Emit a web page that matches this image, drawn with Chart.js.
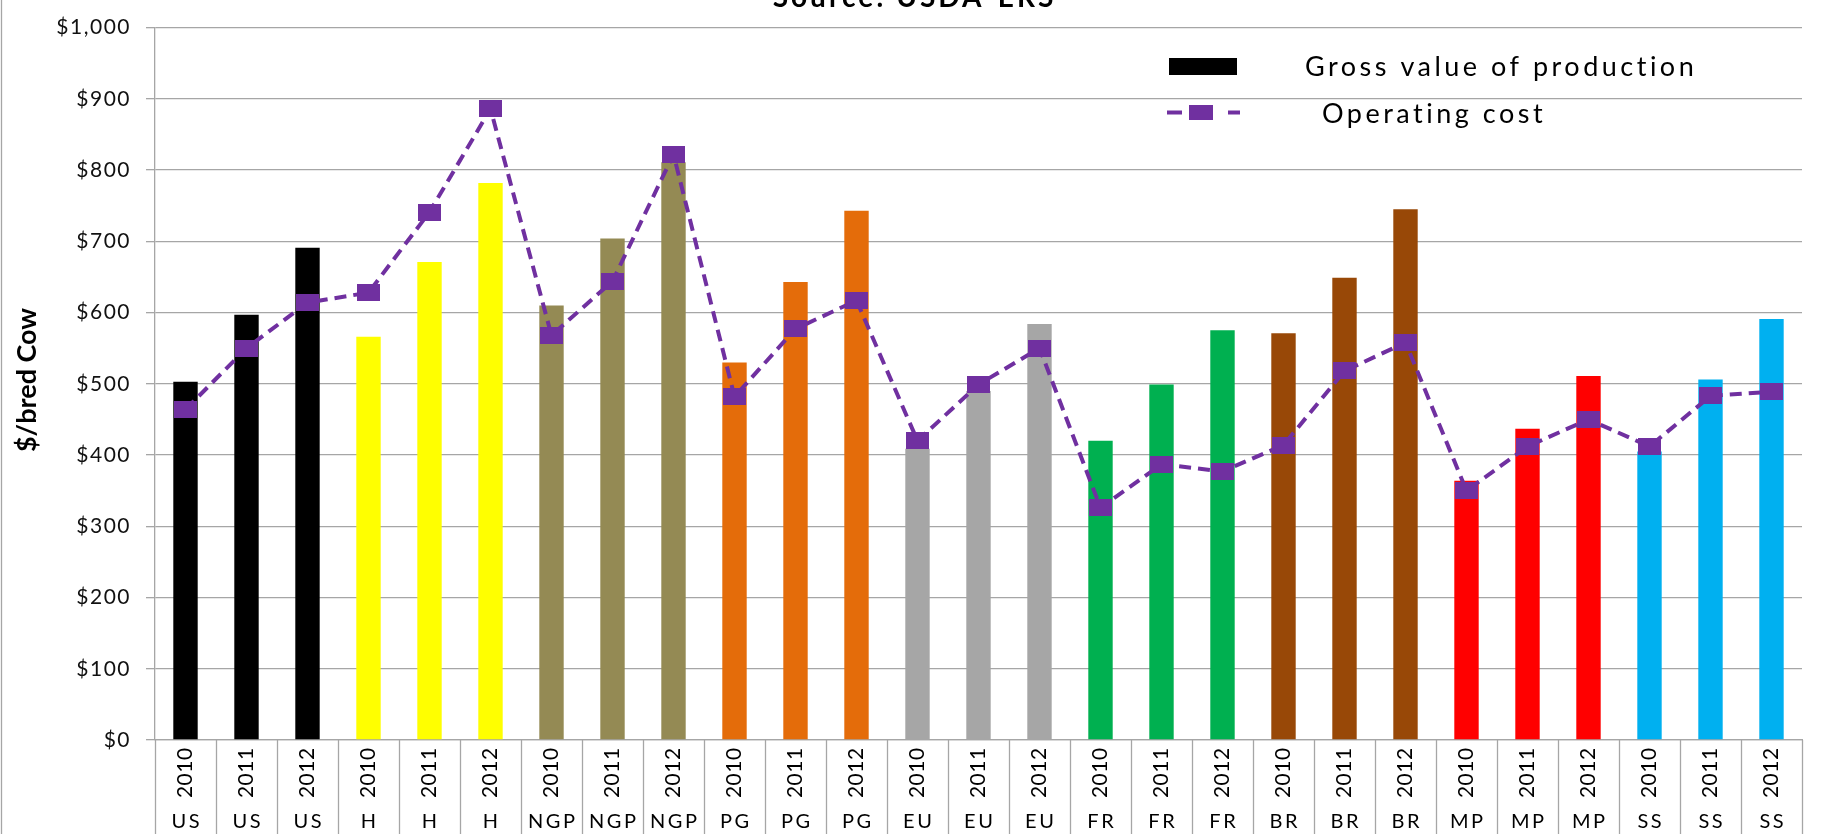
<!DOCTYPE html>
<html>
<head>
<meta charset="utf-8">
<script src="https://cdn.jsdelivr.net/npm/chart.js@4.4.1/dist/chart.umd.min.js"></script>
<style>
  html, body { margin: 0; padding: 0; background: #fff; }
  #wrap { width: 1831px; height: 834px; }
</style>
</head>
<body>
<div id="wrap"><canvas id="cowChart" width="1831" height="834"></canvas></div>
<script>
const years = ['2010', '2011', '2012', '2010', '2011', '2012', '2010', '2011', '2012',
               '2010', '2011', '2012', '2010', '2011', '2012', '2010', '2011', '2012',
               '2010', '2011', '2012', '2010', '2011', '2012', '2010', '2011', '2012'];
const regions = ['US', 'US', 'US', 'H', 'H', 'H', 'NGP', 'NGP', 'NGP',
                 'PG', 'PG', 'PG', 'EU', 'EU', 'EU', 'FR', 'FR', 'FR',
                 'BR', 'BR', 'BR', 'MP', 'MP', 'MP', 'SS', 'SS', 'SS'];
const grossValue = [503, 597, 691, 566, 671, 782, 610, 704, 811,
                    530, 643, 743, 409, 490, 584, 420, 499, 575,
                    571, 649, 745, 364, 437, 511, 405, 506, 591];
const operatingCost = [464, 550, 614, 628, 741, 886, 568, 644, 822,
                       482, 577, 617, 420, 499, 550, 326, 387, 377,
                       414, 518, 558, 350, 412, 450, 412, 483, 489];
const regionColors = {
    US: '#000000', H: '#FFFF00', NGP: '#948A54', PG: '#E46C0A', EU: '#A6A6A6',
    FR: '#00B050', BR: '#984807', MP: '#FF0000', SS: '#00B0F0'
};
const yTicks = [0, 100, 200, 300, 400, 500, 600, 700, 800, 900, 1000];

const purple = '#7030A0';
const gridGray = '#A6A6A6';

// square marker used for the operating cost points
const marker = document.createElement('canvas');
marker.width = 23;
marker.height = 17;
const mctx = marker.getContext('2d');
mctx.fillStyle = purple;
mctx.fillRect(0, 0, 23, 17);

function drawText(ctx, text, x, y, font, spacing, align, baseline, rot) {
    ctx.save();
    ctx.font = font;
    ctx.letterSpacing = spacing + 'px';
    ctx.fillStyle = '#000';
    ctx.textAlign = align;
    ctx.textBaseline = baseline;
    ctx.translate(x, y);
    if (rot) ctx.rotate(rot);
    ctx.fillText(text, align === 'center' ? spacing / 2 : 0, 0);
    ctx.restore();
}

const extras = {
    id: 'extras',
    beforeUpdate(chart) { chart.ctx.letterSpacing = '1.5px'; },
    beforeDraw(chart) { chart.ctx.letterSpacing = '1.5px'; },
    afterDraw(chart) {
        const ctx = chart.ctx;
        const x = chart.scales.x;
        const n = years.length;
        const step = (x.right - x.left) / n;
        const axisY = chart.chartArea.bottom;

        // category separators below the axis
        ctx.save();
        ctx.strokeStyle = gridGray;
        ctx.lineWidth = 1.3;
        for (let i = 0; i <= n; i++) {
            const px = Math.round(x.left + i * step) + 0.5;
            ctx.beginPath();
            ctx.moveTo(px, axisY);
            ctx.lineTo(px, chart.height);
            ctx.stroke();
        }
        // left frame
        ctx.beginPath();
        ctx.moveTo(1.5, 0);
        ctx.lineTo(1.5, chart.height);
        ctx.stroke();
        ctx.restore();

        // year and region labels
        for (let i = 0; i < n; i++) {
            const cx = x.getPixelForTick(i);
            drawText(ctx, years[i], cx, 773, '21px Lato', 0.5, 'center', 'middle', -Math.PI / 2);
            drawText(ctx, regions[i], cx, 828, '20px Lato', 2.5, 'center', 'alphabetic');
        }

        // title (cut off at the top in the original)
        drawText(ctx, 'Source: USDA-ERS', 913, 7, 'bold 28px Lato', 3, 'center', 'alphabetic');

        // y axis title
        drawText(ctx, '$/bred Cow', 27, 380, 'bold 27px Lato', 0, 'center', 'middle', -Math.PI / 2);

        // legend
        const ds = chart.data.datasets;
        ctx.save();
        ctx.fillStyle = '#000';
        ctx.fillRect(1169, 58, 68, 17);
        ctx.strokeStyle = purple;
        ctx.lineWidth = 4;
        ctx.beginPath();
        ctx.moveTo(1167, 112.5); ctx.lineTo(1182, 112.5);
        ctx.moveTo(1228, 112.5); ctx.lineTo(1240, 112.5);
        ctx.stroke();
        ctx.fillStyle = purple;
        ctx.fillRect(1189, 105, 24, 15);
        ctx.restore();
        drawText(ctx, ds[1].label, 1305, 76, '27px Lato', 3.5, 'left', 'alphabetic');
        drawText(ctx, ds[0].label, 1322, 123, '27px Lato', 3.5, 'left', 'alphabetic');
    }
};

const ctx = document.getElementById('cowChart').getContext('2d');
const chart = new Chart(ctx, {
    data: {
        labels: years,
        datasets: [{
            type: 'line',
            label: 'Operating cost',
            data: operatingCost,
            borderColor: purple,
            borderWidth: 4,
            borderDash: [12, 7],
            fill: false,
            tension: 0,
            pointStyle: marker,
            pointRadius: 10,
            order: 0
        }, {
            type: 'bar',
            label: 'Gross value of production',
            data: grossValue,
            backgroundColor: regions.map(r => regionColors[r]),
            categoryPercentage: 1,
            barPercentage: 0.4,
            order: 1
        }]
    },
    options: {
        responsive: false,
        animation: false,
        layout: { padding: { top: 18.7, right: 29, left: 0, bottom: 0 } },
        plugins: {
            legend: { display: false },
            title: { display: false },
            tooltip: { enabled: false }
        },
        scales: {
            x: {
                offset: true,
                grid: { display: false },
                border: { display: true, color: gridGray, width: 1.3 },
                ticks: { display: false },
                afterFit: s => { s.height = 94; }
            },
            y: {
                min: 0,
                max: 1000,
                afterBuildTicks: s => { s.ticks = yTicks.map(v => ({ value: v })); },
                grid: { color: gridGray, lineWidth: 1.3, tickLength: 9 },
                border: { display: true, color: gridGray, width: 1.3 },
                ticks: {
                    font: { family: 'Lato', size: 21 },
                    color: '#111',
                    padding: 15,
                    callback: v => '$' + v.toLocaleString('en-US')
                },
                afterFit: s => { s.width = 155; }
            }
        }
    },
    plugins: [extras]
});
</script>
</body>
</html>
